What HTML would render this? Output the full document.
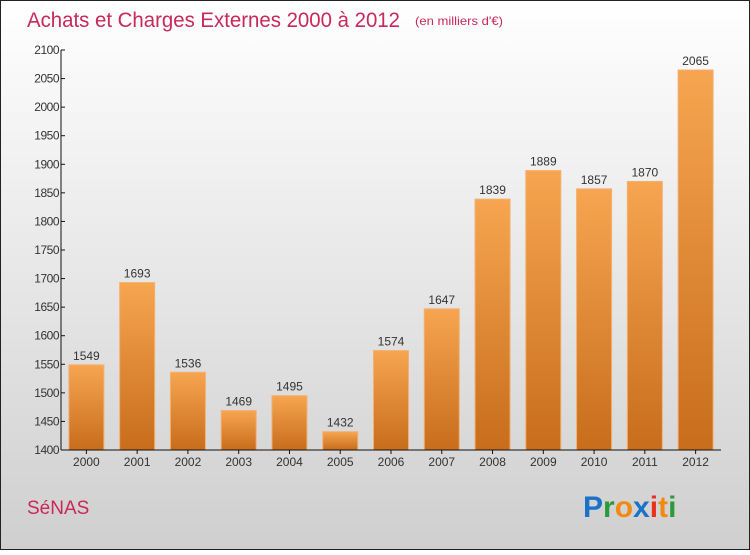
<!DOCTYPE html>
<html><head><meta charset="utf-8"><style>
html,body{margin:0;padding:0}
body{width:750px;height:550px;overflow:hidden;font-family:"Liberation Sans",sans-serif}
</style></head><body>
<svg width="750" height="550" xmlns="http://www.w3.org/2000/svg">
<defs>
<linearGradient id="bg" x1="0" y1="0" x2="0" y2="1"><stop offset="0" stop-color="#ffffff"/><stop offset="1" stop-color="#cfcfcf"/></linearGradient>
<linearGradient id="bar" x1="0" y1="0" x2="0" y2="1"><stop offset="0" stop-color="#f7a550"/><stop offset="1" stop-color="#c76d1c"/></linearGradient>
</defs>
<rect x="0.5" y="0.5" width="749" height="549" fill="url(#bg)" stroke="#222"/>
<text x="27" y="27" font-size="21" fill="#c8285a" textLength="373" lengthAdjust="spacingAndGlyphs">Achats et Charges Externes 2000 à 2012</text>
<text x="415" y="25" font-size="12" fill="#c8285a" textLength="88" lengthAdjust="spacingAndGlyphs">(en milliers d'€)</text>
<g id="plot"></g>
<text x="27" y="514" font-size="19" fill="#c8285a">SéNAS</text>
<g font-size="30" font-weight="bold" font-family="Liberation Sans,sans-serif">
<text x="583" y="517"><tspan fill="#1a73c8">P</tspan><tspan fill="#2a9a3a">r</tspan><tspan fill="#f08a10">o</tspan><tspan fill="#1a73c8">x</tspan><tspan fill="#e83020">i</tspan><tspan fill="#f08a10">t</tspan><tspan fill="#2a9a3a">i</tspan></text>
</g>
</svg>
<script>
const years=["2000","2001","2002","2003","2004","2005","2006","2007","2008","2009","2010","2011","2012"];
const values=[1549,1693,1536,1469,1495,1432,1574,1647,1839,1889,1857,1870,2065];
const yTicks=[1400,1450,1500,1550,1600,1650,1700,1750,1800,1850,1900,1950,2000,2050,2100];
const NS="http://www.w3.org/2000/svg";
const g=document.getElementById('plot');
const yMin=1400,yMax=2100,top0=50,bot=450,left=61,right=721;
const y=v=>bot-(v-yMin)/(yMax-yMin)*(bot-top0);
const step=(right-left)/years.length;
const x=i=>left+step*(i+0.5);
function mk(t,a){const e=document.createElementNS(NS,t);for(const k in a)e.setAttribute(k,a[k]);g.appendChild(e);return e;}
years.forEach((yr,i)=>{
 const r=mk('rect',{x:x(i)-17.5,y:y(values[i]),width:35,height:bot-y(values[i]),fill:'url(#bar)',stroke:'#f4b070','stroke-width':1});
 
 
 const t=mk('text',{x:x(i),y:y(values[i])-5,'text-anchor':'middle','font-size':12,fill:'#333'});
 t.textContent=values[i];
 
 
 const l=mk('text',{x:x(i),y:bot+16,'text-anchor':'middle','font-size':12,fill:'#333'});
 l.textContent=yr;
 
 
 mk('line',{x1:x(i),x2:x(i),y1:bot,y2:bot+4,stroke:'#111'});
});
yTicks.forEach(v=>{
 mk('line',{x1:left,x2:left+4,y1:y(v),y2:y(v),stroke:'#111'});
 const t=mk('text',{x:left-2,y:y(v)+4,'text-anchor':'end','font-size':12,fill:'#333','letter-spacing':'-0.5'});
 t.textContent=v;
 
 
});
const ya=mk('line',{x1:left,x2:left,y1:top0,y2:bot,stroke:'#111'});


const xa=mk('line',{x1:left,x2:right,y1:bot,y2:bot,stroke:'#111'});


</script>
</body></html>
